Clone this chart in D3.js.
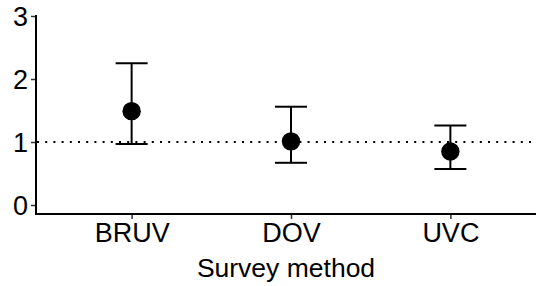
<!DOCTYPE html>
<html>
<head>
<meta charset="utf-8">
<script src="https://cdn.jsdelivr.net/npm/d3@7"></script>
<style>
  body { margin: 0; background: #fff; }
  text { font-family: "Liberation Sans", Arial, sans-serif; fill: #000; }
</style>
</head>
<body>
<svg id="chart"></svg>
<script>
const W = 536, H = 286;
const methods = ["BRUV", "DOV", "UVC"];
const means = [1.49, 1.01, 0.85];
const lowers = [0.97, 0.67, 0.57];
const uppers = [2.25, 1.56, 1.26];
const yTicks = [0, 1, 2, 3];

let svg = d3.select("#chart").attr("width", W).attr("height", H);

let x = d3.scalePoint().domain(methods).range([36, 546]).padding(0.6);
let y = d3.scaleLinear().domain([0, 3]).range([205, 16]);

// reference line at 1
svg.append("line")
  .attr("x1", 37).attr("x2", W)
  .attr("y1", y(1)).attr("y2", y(1))
  .attr("stroke", "#000").attr("stroke-width", 2)
  .attr("stroke-dasharray", "2,6.2");

// axes
let yAxis = d3.axisLeft(y).tickValues(yTicks).tickSize(5).tickPadding(3).tickFormat(d3.format("d"));
let gy = svg.append("g").attr("transform", "translate(36,0)").call(yAxis);
gy.select(".domain").remove();
gy.selectAll("line").attr("stroke", "#333").attr("stroke-width", 1.5);
gy.selectAll("text").style("font-size", "27px").attr("dy", "0.35em");

let xAxis = d3.axisBottom(x).tickSize(5).tickPadding(4);
let gx = svg.append("g").attr("transform", "translate(0,214)").call(xAxis);
gx.select(".domain").remove();
gx.selectAll("line").attr("stroke", "#333").attr("stroke-width", 1.5);
gx.selectAll("text").style("font-size", "27px").attr("dy", "0.7em");

svg.append("line").attr("x1", 36).attr("x2", 36).attr("y1", 15).attr("y2", 214.8)
  .attr("stroke", "#000").attr("stroke-width", 2);
svg.append("line").attr("x1", 35).attr("x2", W).attr("y1", 214).attr("y2", 214)
  .attr("stroke", "#000").attr("stroke-width", 2);

svg.append("text")
  .attr("x", 286).attr("y", 277)
  .attr("text-anchor", "middle")
  .style("font-size", "26.5px")
  .text("Survey method");

// error bars
let bars = svg.append("g").selectAll("g").data(methods).enter().append("g");
bars.append("line")
  .attr("x1", d => x(d)).attr("x2", d => x(d))
  .attr("y1", (d, i) => y(uppers[i])).attr("y2", (d, i) => y(lowers[i]))
  .attr("stroke", "#000").attr("stroke-width", 2);
bars.append("line")
  .attr("x1", d => x(d) - 16).attr("x2", d => x(d) + 16)
  .attr("y1", (d, i) => y(uppers[i])).attr("y2", (d, i) => y(uppers[i]))
  .attr("stroke", "#000").attr("stroke-width", 2);
bars.append("line")
  .attr("x1", d => x(d) - 16).attr("x2", d => x(d) + 16)
  .attr("y1", (d, i) => y(lowers[i])).attr("y2", (d, i) => y(lowers[i]))
  .attr("stroke", "#000").attr("stroke-width", 2);
bars.append("circle")
  .attr("cx", d => x(d)).attr("cy", (d, i) => y(means[i]))
  .attr("r", 9.2).attr("fill", "#000");
</script>
</body>
</html>
